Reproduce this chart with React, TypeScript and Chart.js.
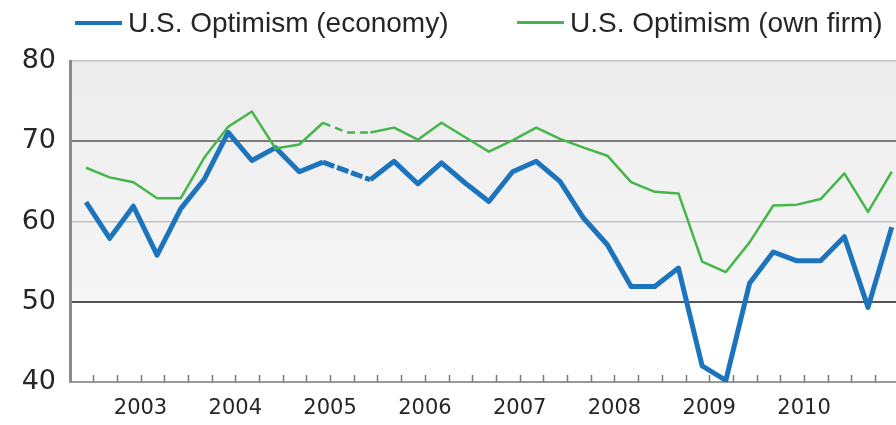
import React, { useEffect, useRef } from "react";
import { Chart, registerables } from "chart.js";

Chart.register(...registerables);

const economy = [62.4, 57.9, 61.9, 55.8, 61.6, 65.3, 71.1, 67.6, 69.2, 66.2, 67.4, 66.3, 65.2, 67.5, 64.7, 67.3, 64.8, 62.5, 66.2, 67.5, 65.0, 60.4, 57.1, 51.9, 51.9, 54.2, 42.0, 40.2, 52.3, 56.2, 55.1, 55.1, 58.1, 49.3, 59.3];
const ownFirm = [66.7, 65.5, 64.9, 62.9, 62.9, 68.0, 71.8, 73.7, 69.1, 69.6, 72.3, 71.1, 71.1, 71.7, 70.2, 72.3, 70.5, 68.7, 70.1, 71.7, 70.3, 69.2, 68.2, 64.9, 63.7, 63.5, 55.0, 53.7, 57.4, 62.0, 62.1, 62.8, 66.0, 61.2, 66.2];
const yearLabels = ["2003", "2004", "2005", "2006", "2007", "2008", "2009", "2010"];
const seriesNames = ["U.S. Optimism (economy)", "U.S. Optimism (own firm)"];
const dashedStart = 10;
const dashedEnd = 12;

const BLUE = "#1c74bd";
const GREEN = "#45b64a";
const TEXT = "#262626";

export default function App() {
  const ref = useRef<HTMLCanvasElement | null>(null);

  useEffect(() => {
    if (!ref.current) return;
    const bgPlugin = {
      id: "bg",
      beforeDraw(chart: any) {
        const { ctx, chartArea, scales } = chart;
        const y = scales.y;
        const top = y.getPixelForValue(80);
        const bot = y.getPixelForValue(50);
        const g = ctx.createLinearGradient(0, top, 0, bot);
        g.addColorStop(0, "#ececec");
        g.addColorStop(1, "#f6f6f6");
        ctx.save();
        ctx.fillStyle = g;
        ctx.fillRect(chartArea.left, top, chartArea.right - chartArea.left, bot - top);
        ctx.restore();
      },
      afterDatasetsDraw(chart: any) {
        const { ctx, chartArea, scales } = chart;
        const x = scales.x;
        ctx.save();
        ctx.strokeStyle = "#7a7a7a";
        ctx.lineWidth = 1.5;
        for (let i = 0; i < economy.length - 1; i++) {
          const px = Math.round(x.getPixelForValue(i + 0.3)) + 0.5;
          ctx.beginPath();
          ctx.moveTo(px, chartArea.bottom);
          ctx.lineTo(px, chartArea.bottom - 7);
          ctx.stroke();
        }
        ctx.restore();
      },
    };

    const dash = (d: number[]) => (c: any) =>
      c.p0DataIndex >= dashedStart && c.p0DataIndex < dashedEnd ? d : undefined;

    const chart = new Chart(ref.current, {
      type: "line",
      data: {
        datasets: [
          {
            label: seriesNames[1],
            data: ownFirm.map((v, i) => ({ x: i, y: v })),
            borderColor: GREEN,
            borderWidth: 2.5,
            pointRadius: 0,
            tension: 0,
            borderJoinStyle: "round",
            segment: { borderDash: dash([8, 5]) },
          },
          {
            label: seriesNames[0],
            data: economy.map((v, i) => ({ x: i, y: v })),
            borderColor: BLUE,
            borderWidth: 5,
            pointRadius: 0,
            tension: 0,
            borderJoinStyle: "round",
            segment: { borderDash: dash([12, 3]) },
          },
        ],
      },
      options: {
        animation: false,
        responsive: false,
        maintainAspectRatio: false,
        layout: { padding: { top: 61, left: 0, right: 0, bottom: 0 } },
        plugins: { legend: { display: false }, tooltip: { enabled: false } },
        scales: {
          x: {
            type: "linear",
            min: -0.675,
            max: 34.18,
            grid: { display: false, drawTicks: false },
            border: { display: true, color: "#9a9a9a", width: 2 },
            afterBuildTicks: (s: any) => {
              s.ticks = yearLabels.map((_, k) => ({ value: 2.3 + 4 * k }));
            },
            afterFit: (s: any) => {
              s.height = 43;
            },
            ticks: {
              autoSkip: false,
              maxRotation: 0,
              padding: 14,
              color: TEXT,
              font: { family: "DejaVu Sans", size: 21 },
              callback: (_v: any, idx: number) => yearLabels[idx],
            },
          },
          y: {
            min: 40,
            max: 80,
            afterFit: (s: any) => {
              s.width = 70;
            },
            ticks: {
              stepSize: 10,
              padding: 14,
              color: TEXT,
              font: { family: "DejaVu Sans", size: 27 },
            },
            grid: {
              drawTicks: false,
              color: (c: any) => {
                const v = c.tick && c.tick.value;
                if (v === 70) return "#7c7c7c";
                if (v === 50) return "#555555";
                if (v === 40) return "rgba(0,0,0,0)";
                return "#c2c2c2";
              },
              lineWidth: (c: any) => {
                const v = c.tick && c.tick.value;
                return v === 70 || v === 50 ? 2 : 1.5;
              },
            },
            border: { display: true, color: "#8a8a8a", width: 3 },
          },
        },
      },
      plugins: [bgPlugin],
    } as any);
    return () => chart.destroy();
  }, []);

  const legendItem = (color: string, h: number, text: string, left: number) => (
    <div
      style={{
        position: "absolute",
        left,
        top: 9,
        display: "flex",
        alignItems: "center",
        height: 27,
        lineHeight: "27px",
      }}
    >
      <div style={{ width: 47, height: h, background: color, marginRight: 6 }} />
      <span style={{ font: "28px 'Liberation Sans', Arial, sans-serif", color: TEXT, whiteSpace: "nowrap" }}>{text}</span>
    </div>
  );

  return (
    <div style={{ position: "fixed", left: 0, top: 0, width: 896, height: 425, background: "#fff" }}>
      <canvas ref={ref} width={896} height={425} style={{ position: "absolute", left: 0, top: 0 }} />
      {legendItem(BLUE, 4, seriesNames[0], 75)}
      {legendItem(GREEN, 3, seriesNames[1], 517)}
    </div>
  );
}
